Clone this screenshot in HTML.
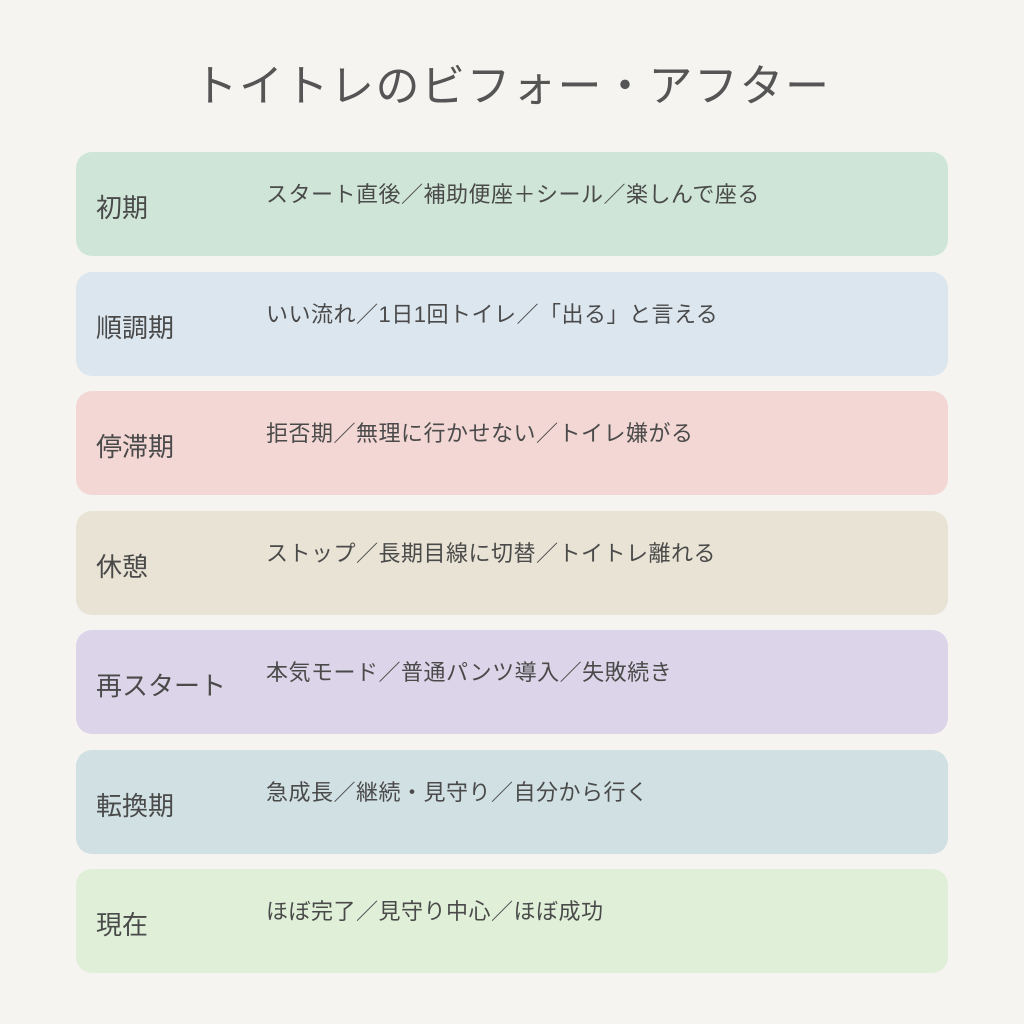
<!DOCTYPE html>
<html><head><meta charset="utf-8"><style>
body{margin:0;width:1024px;height:1024px;background:#f5f4f0;font-family:"Liberation Sans","Noto Sans CJK JP",sans-serif;color:#4a4a4a;position:relative;overflow:hidden}
h1{position:absolute;top:50px;left:0;width:1024px;text-align:center;margin:0;font-size:44px;font-weight:400;color:#555;letter-spacing:1.5px}
.r{position:absolute;left:76px;width:872px;height:104px;border-radius:16px}
.l{position:absolute;left:20px;top:36px;font-size:26px;color:#4a4a4a}
.d{position:absolute;left:190px;top:25px;font-size:22px;letter-spacing:0.5px;color:#4a4a4a}
</style></head><body>
<h1>トイトレのビフォー・アフター</h1>
<div class="r" style="top:152px;background:#cee5d7"><div class="l">初期</div><div class="d">スタート直後／補助便座＋シール／楽しんで座る</div></div>
<div class="r" style="top:272px;background:#dce6ef"><div class="l">順調期</div><div class="d">いい流れ／1日1回トイレ／「出る」と言える</div></div>
<div class="r" style="top:391px;background:#f2d7d4"><div class="l">停滞期</div><div class="d">拒否期／無理に行かせない／トイレ嫌がる</div></div>
<div class="r" style="top:511px;background:#e8e3d4"><div class="l">休憩</div><div class="d">ストップ／長期目線に切替／トイトレ離れる</div></div>
<div class="r" style="top:630px;background:#dcd4e8"><div class="l">再スタート</div><div class="d">本気モード／普通パンツ導入／失敗続き</div></div>
<div class="r" style="top:750px;background:#d1e0e3"><div class="l">転換期</div><div class="d">急成長／継続・見守り／自分から行く</div></div>
<div class="r" style="top:869px;background:#dfefd8"><div class="l">現在</div><div class="d">ほぼ完了／見守り中心／ほぼ成功</div></div>
</body></html>
